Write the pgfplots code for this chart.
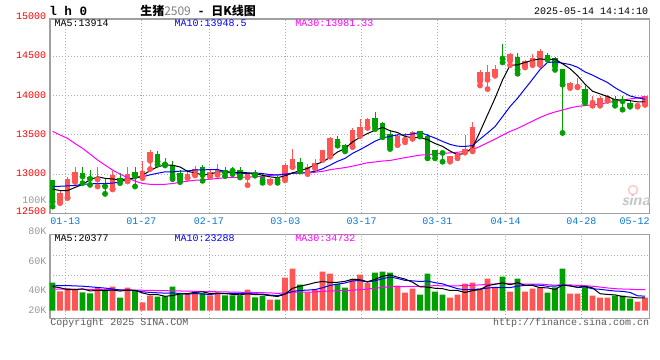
\documentclass[border=0pt]{standalone}
\usepackage{fontspec}
\usepackage{pgfplots}
\usepackage{pgfplotstable}
\pgfplotsset{compat=1.18}
\setmainfont{Liberation Sans}
\newfontfamily\mono{Liberation Mono}
\newfontfamily\cjk{Noto Sans CJK SC}
\definecolor{cred}{RGB}{255,85,85}
\definecolor{cgreen}{RGB}{0,160,0}
\definecolor{cdate}{RGB}{10,120,210}
\definecolor{clabel}{RGB}{153,153,153}
\definecolor{cborder}{RGB}{160,160,160}
\definecolor{cgrid}{RGB}{175,175,175}
\definecolor{cfoot}{RGB}{90,90,90}
\definecolor{cmag}{RGB}{255,0,255}
\definecolor{cblue}{RGB}{0,0,255}

% up candles (close >= open): index open high low close volume(K)
\pgfplotstableread{
i O H L C V
1 12637 12799 12630 12765 31.2
2 12701 12957 12695 12940 36.6
3 12906 13085 12900 13021 33.9
6 12932 13090 12842 12957 36.6
8 12812 13034 12805 12983 38.7
10 12919 13090 12906 13004 37.2
12 12970 13162 12949 13043 13.4
13 13171 13312 13064 13286 24.2
18 12957 13056 12950 13004 27.4
19 12991 13098 12983 13068 31.7
21 12979 13060 12966 13021 24.7
22 13000 13128 12990 13051 29.1
26 12957 13010 12859 13000 33.9
29 12902 12950 12890 12940 17.8
31 12936 13137 12920 13115 53.3
32 13094 13320 13090 13188 67.8
34 13021 13128 13000 13094 29.6
35 13094 13188 13073 13145 33.9
36 13192 13310 13180 13307 62.9
37 13250 13478 13222 13461 59.7
40 13350 13585 13345 13564 51.2
41 13491 13700 13485 13598 58.1
42 13594 13722 13590 13705 44.6
46 13376 13513 13370 13487 40.4
47 13440 13521 13406 13452 29.1
48 13457 13551 13450 13534 35.5
53 13180 13235 13158 13231 21.0
54 13231 13286 13201 13274 25.9
55 13287 13500 13274 13316 43.6
56 13300 13660 13290 13595 45.2
57 14182 14330 14131 14297 35.5
58 14203 14394 14085 14297 51.6
59 14267 14394 14254 14339 37.2
61 14445 14542 14390 14530 30.6
63 14373 14458 14360 14445 30.6
64 14415 14530 14390 14475 35.5
65 14394 14593 14394 14568 37.6
69 14127 14178 14097 14161 27.4
70 14115 14224 14106 14127 27.4
72 13911 13991 13872 13923 24.2
73 13885 13991 13872 13970 21.0
74 13936 14012 13936 14000 21.0
78 13872 13906 13860 13894 14.5
79 13885 14000 13885 13991 21.0
}\up

% down candles (close < open)
\pgfplotstableread{
i O H L C V
0 12927 12930 12586 12650 45.2
4 13017 13085 12885 12970 29.6
5 12962 13056 12863 12940 28.0
7 12863 12949 12748 12842 33.9
9 12953 13013 12885 12919 21.0
11 13030 13090 12842 12970 32.8
14 13260 13290 13120 13162 22.6
15 13145 13205 13110 13124 23.1
16 13120 13171 12936 12957 38.7
17 13009 13056 12898 12927 26.4
20 13085 13115 12915 12987 28.5
23 13051 13094 12974 13017 24.7
24 13064 13094 13000 13043 24.7
25 13051 13094 12957 12974 24.7
27 13010 13051 12980 12995 21.5
28 12974 13020 12889 12915 23.6
30 12953 12970 12889 12923 17.8
33 13154 13209 13034 13051 42.0
38 13448 13487 13363 13401 43.1
39 13371 13380 13290 13320 37.2
43 13718 13786 13573 13607 61.4
44 13650 13671 13470 13504 62.9
45 13513 13564 13320 13350 61.4
49 13547 13551 13479 13513 25.9
50 13491 13510 13201 13210 59.7
51 13308 13310 13201 13244 30.6
52 13282 13286 13158 13270 25.9
60 14487 14657 14424 14475 54.8
62 14500 14542 14280 14330 51.6
66 14517 14551 14458 14479 29.1
67 14487 14500 14330 14373 37.6
68 14347 14347 13525 14140 67.8
71 14084 14127 13906 13936 37.2
75 13957 14000 13872 13915 24.2
76 13940 13991 13822 13928 24.2
77 13906 13928 13860 13872 19.4
}\down

% price moving averages
\pgfplotstableread{
i m5 m10 m30
0 12810 12845 13545
1 12790 12845 13500
2 12790 12850 13456
3 12830 12855 13390
4 12869 12870 13329
5 12927 12875 13255
6 12966 12880 13180
7 12946 12880 13115
8 12938 12885 13052
9 12928 12899 13000
10 12941 12934 12954
11 12944 12955 12910
12 12984 12965 12880
13 13044 12991 12870
14 13093 13011 12868
15 13117 13029 12870
16 13114 13029 12880
17 13091 13038 12895
18 13035 13040 12910
19 13016 13055 12922
20 12989 13053 12925
21 13001 13058 12935
22 13026 13059 12944
23 13029 13032 12955
24 13024 13020 12958
25 13021 13005 12960
26 13017 13009 12962
27 13006 13016 12966
28 12985 13007 12972
29 12965 12994 12983
30 12955 12988 12992
31 12978 12997 13003
32 13016 13011 13012
33 13043 13014 13013
34 13074 13020 13017
35 13119 13037 13024
36 13157 13067 13035
37 13212 13114 13056
38 13282 13163 13070
39 13327 13201 13083
40 13411 13265 13102
41 13469 13313 13123
42 13518 13365 13145
43 13559 13420 13155
44 13596 13461 13167
45 13553 13482 13174
46 13531 13500 13192
47 13480 13499 13210
48 13465 13512 13227
49 13467 13531 13242
50 13439 13496 13249
51 13390 13460 13257
52 13354 13417 13264
53 13294 13379 13271
54 13246 13356 13279
55 13267 13353 13290
56 13337 13364 13310
57 13543 13448 13354
58 13756 13525 13400
59 13969 13607 13446
60 14201 13734 13498
61 14388 13862 13545
62 14394 13968 13583
63 14424 14090 13630
64 14451 14210 13676
65 14470 14335 13723
66 14459 14424 13762
67 14468 14431 13793
68 14407 14415 13817
69 14344 14398 13845
70 14256 14363 13864
71 14147 14303 13875
72 14057 14263 13883
73 14023 14215 13895
74 13991 14168 13911
75 13949 14102 13930
76 13947 14047 13945
77 13937 13997 13959
78 13922 13973 13971
79 13920 13956 13987
}\ma

% volume moving averages (K)
\pgfplotstableread{
i v5 v10 v30
0 39.0 40.0 35.0
1 37.0 40.5 34.9
2 34.0 40.5 34.8
3 34.0 40.0 34.6
4 35.3 39.5 34.5
5 31.9 38.5 34.3
6 32.9 37.5 34.1
7 32.4 36.5 34.0
8 33.4 35.0 33.8
9 31.6 33.5 33.6
10 33.5 32.7 33.4
11 32.7 32.8 33.2
12 28.6 30.5 33.0
13 25.7 29.5 32.8
14 26.0 28.8 32.5
15 23.2 28.4 32.3
16 24.4 28.6 32.0
17 27.0 27.8 31.8
18 27.6 26.7 31.5
19 29.5 27.8 31.3
20 30.5 26.9 31.0
21 27.7 26.1 30.8
22 28.3 27.6 30.5
23 27.7 27.7 30.3
24 26.3 27.9 30.0
25 25.6 28.1 29.8
26 27.4 27.6 29.5
27 25.9 27.1 29.3
28 25.7 26.7 29.0
29 24.3 25.3 28.8
30 22.9 24.3 27.9
31 26.8 27.1 28.7
32 36.1 31.0 29.7
33 39.7 32.7 30.0
34 42.1 33.2 30.0
35 45.3 34.1 30.2
36 47.2 37.0 31.1
37 45.6 40.8 31.9
38 45.8 42.8 32.1
39 47.4 44.7 32.6
40 50.8 48.1 33.1
41 49.9 48.6 33.9
42 46.8 46.2 34.9
43 50.5 48.2 36.2
44 55.6 51.5 37.5
45 57.7 54.3 38.8
46 54.1 52.0 38.9
47 51.0 48.9 39.0
48 45.9 48.2 39.2
49 38.5 47.1 39.0
50 38.1 47.9 40.1
51 36.2 45.2 40.3
52 35.5 43.3 40.2
53 32.6 39.2 40.0
54 32.6 35.5 40.1
55 29.4 33.8 40.7
56 32.3 34.2 41.1
57 34.2 34.9 41.6
58 40.4 36.5 42.5
59 42.6 37.6 43.1
60 44.9 37.1 44.4
61 41.9 37.1 43.6
62 45.2 39.7 43.1
63 41.0 40.7 42.7
64 40.6 41.6 42.9
65 37.2 41.0 43.0
66 36.9 39.4 41.9
67 34.1 39.6 41.1
68 41.5 41.2 42.0
69 39.9 40.3 41.6
70 37.9 37.5 40.9
71 39.5 38.2 40.2
72 36.8 35.4 39.5
73 27.4 34.5 38.1
74 26.2 33.0 36.7
75 25.5 31.7 35.5
76 22.9 31.2 35.0
77 22.0 29.4 34.6
78 20.7 24.1 33.9
79 20.7 23.4 33.8
}\vma

\pgfplotsset{
  klinepanel/.style={
    scale only axis, anchor=south west, width=449.6pt,
    xmin=-0.34, xmax=79.59,
    axis line style={color=cborder, line width=0.9pt},
    xtick={1.70,11.83,20.86,31.03,41.22,51.30,60.39,70.50},
    xticklabels={,,,,,,,},
    scaled ticks=false,
    major tick length=0pt,
    grid=major,
    grid style={color=cgrid, line width=0.75pt, dash pattern=on 0.75pt off 1.5pt},
    clip=false,
  }
}

\begin{document}
\begin{tikzpicture}
\useasboundingbox (0pt,0pt) rectangle (495pt,-270pt);
\fill[white] (0pt,0pt) rectangle (495pt,-270pt);

% ---------- price panel ----------
\begin{axis}[klinepanel,
  at={(37.5pt,-159.98pt)}, height=145.7pt,
  ymin=12500, ymax=14978,
  ytick={13000,13500,14000,14500}, yticklabels={,,,},
]
% wicks
\addplot[cred, only marks, mark=none,
  error bars/.cd, y dir=plus, y explicit, error mark=none,
  error bar style={line width=0.75pt, cred}]
  table[x=i, y=L, y error plus expr={\thisrow{H}-\thisrow{L}}]{\up};
\addplot[cgreen, only marks, mark=none,
  error bars/.cd, y dir=plus, y explicit, error mark=none,
  error bar style={line width=0.75pt, cgreen}]
  table[x=i, y=L, y error plus expr={\thisrow{H}-\thisrow{L}}]{\down};
% bodies
\addplot[cred, only marks, mark=none,
  error bars/.cd, y dir=plus, y explicit, error mark=none,
  error bar style={line width=4.3pt, cred, line cap=butt}]
  table[x=i, y=O, y error plus expr={\thisrow{C}-\thisrow{O}}]{\up};
\addplot[cgreen, only marks, mark=none,
  error bars/.cd, y dir=plus, y explicit, error mark=none,
  error bar style={line width=4.3pt, cgreen, line cap=butt}]
  table[x=i, y=C, y error plus expr={\thisrow{O}-\thisrow{C}}]{\down};
% moving averages
\addplot[cmag, mark=none, line width=0.75pt] table[x=i, y=m30]{\ma};
\addplot[cblue, mark=none, line width=0.75pt] table[x=i, y=m10]{\ma};
\addplot[black, mark=none, line width=0.75pt] table[x=i, y=m5]{\ma};
\end{axis}

% ---------- volume panel ----------
\begin{axis}[klinepanel,
  at={(37.5pt,-238.73pt)}, height=62.7pt,
  ymin=-12.3, ymax=122.6,
  ytick={57.1,89.4}, yticklabels={,},
]
\addplot[ybar, bar width=0.76, bar shift=0pt, fill=cred, draw=none] table[x=i, y=V]{\up};
\addplot[ybar, bar width=0.76, bar shift=0pt, fill=cgreen, draw=none] table[x=i, y=V]{\down};
\addplot[cmag, mark=none, line width=0.75pt] table[x=i, y=v30]{\vma};
\addplot[cblue, mark=none, line width=0.75pt] table[x=i, y=v10]{\vma};
\addplot[black, mark=none, line width=0.75pt] table[x=i, y=v5]{\vma};
\end{axis}

% ---------- texts (pixel coordinates) ----------
\begin{scope}[x=0.75pt, y=-0.75pt,
  every node/.style={inner sep=0pt, font=\mono\fontsize{7.5}{9}\selectfont}]
\node[anchor=west, font=\mono\bfseries\fontsize{9.5}{10}\selectfont] at (49,11) {l h 0};
\node[anchor=west, font=\cjk\bfseries\fontsize{9}{10}\selectfont] at (140,11)
  {生猪{\mdseries\color{gray}2509}\hspace{6pt}-\hspace{6pt}日K线图};
\node[anchor=east] at (648.5,11.5) {2025-05-14 14:14:10};
\node[anchor=west] at (54.3,23.7) {MA5:13914};
\node[anchor=west, text=cblue] at (174.3,23.7) {MA10:13948.5};
\node[anchor=west, text=cmag] at (295,23.7) {MA30:13981.33};
% price labels
\foreach \lab/\yy in {15000/15.8,14500/55.7,14000/95.0,13500/134.7,13000/173.3,12500/211.5}
  \node[anchor=east, text=red] at (46.5,\yy) {\lab};
\node[anchor=east, text=clabel] at (46.7,200.7) {100K};
% date labels
\foreach \lab/\xx in {01-13/65.3,01-27/141.3,02-17/209,03-03/285.3,03-17/361.7,03-31/437.3,04-14/505.5,04-28/581.3,05-12/634.5}
  \node[text=cdate] at (\xx,221.7) {\lab};
% volume labels
\foreach \lab/\yy in {80K/230.8,60K/260.8,40K/290,20K/310}
  \node[anchor=east, text=clabel] at (46.7,\yy) {\lab};
\node[anchor=west] at (54.3,238.3) {MA5:20377};
\node[anchor=west, text=cblue] at (174.3,238.3) {MA10:23288};
\node[anchor=west, text=cmag] at (295,238.3) {MA30:34732};
% footer
\node[anchor=west, text=cfoot] at (50,323) {Copyright 2025 SINA.COM};
\node[anchor=east, text=cfoot] at (649.3,323.3) {http://finance.sina.com.cn};
% watermark
\draw[cred!30, line width=1.2pt] (633,190) circle (4.5);
\node[text=gray!45, font=\sffamily\bfseries\itshape\fontsize{12}{12}\selectfont] at (636,200) {sina};
\end{scope}
\end{tikzpicture}
\end{document}
